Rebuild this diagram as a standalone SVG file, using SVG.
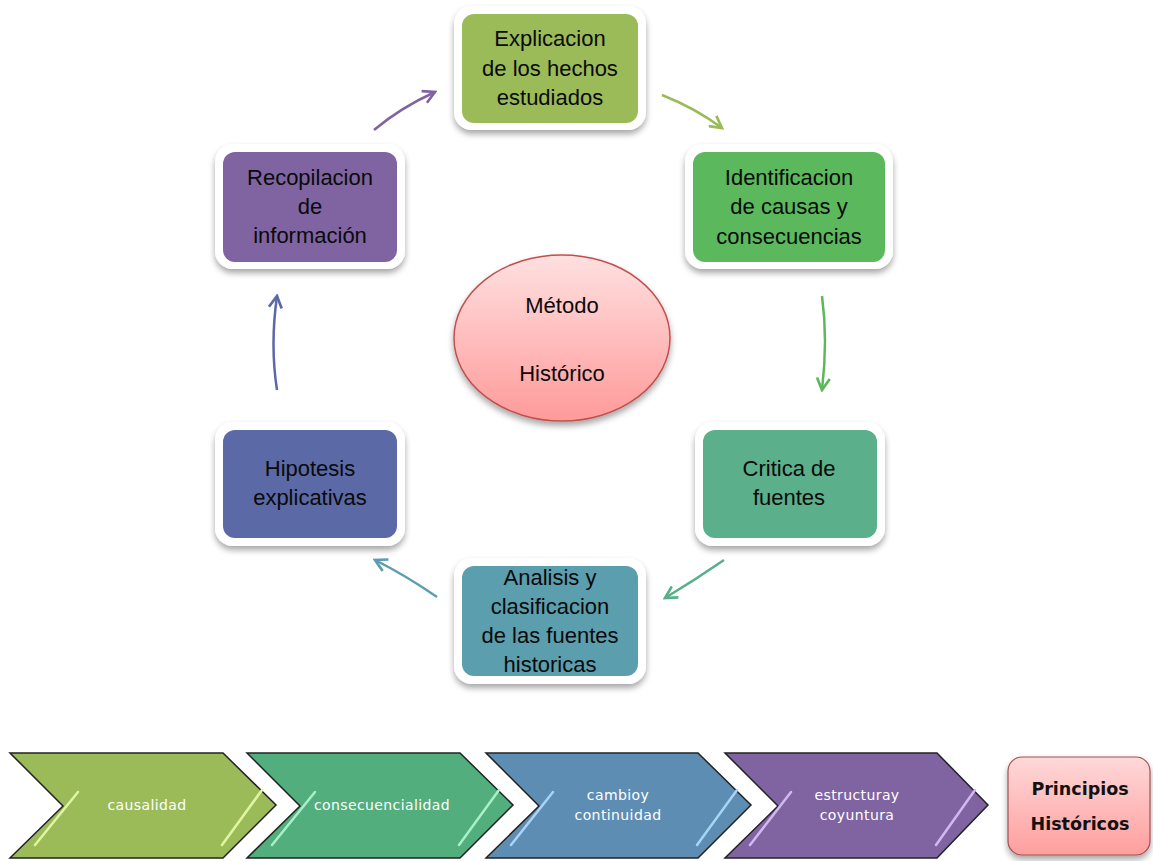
<svg xmlns="http://www.w3.org/2000/svg" width="1153" height="861" viewBox="0 0 1153 861">
<defs>
<filter id="sh" x="-20%" y="-20%" width="140%" height="150%">
<feDropShadow dx="0" dy="4" stdDeviation="3" flood-color="#000" flood-opacity="0.35"/>
</filter>
<linearGradient id="pink" x1="0" y1="0" x2="0" y2="1">
<stop offset="0" stop-color="#FFE0E0"/>
<stop offset="1" stop-color="#FF9A9A"/>
</linearGradient>
<linearGradient id="pink2" x1="0" y1="0" x2="0" y2="1">
<stop offset="0" stop-color="#FFD8D8"/>
<stop offset="1" stop-color="#FF9E9E"/>
</linearGradient>
<marker id="m1" viewBox="0 0 14 14" refX="12" refY="7" markerWidth="15" markerHeight="15" markerUnits="userSpaceOnUse" orient="auto"><path d="M1,1 L12,7 L1,13" fill="none" stroke="#8064A2" stroke-width="2.5"/></marker>
<marker id="m2" viewBox="0 0 14 14" refX="12" refY="7" markerWidth="15" markerHeight="15" markerUnits="userSpaceOnUse" orient="auto"><path d="M1,1 L12,7 L1,13" fill="none" stroke="#9BBB59" stroke-width="2.5"/></marker>
<marker id="m3" viewBox="0 0 14 14" refX="12" refY="7" markerWidth="15" markerHeight="15" markerUnits="userSpaceOnUse" orient="auto"><path d="M1,1 L12,7 L1,13" fill="none" stroke="#5CB85C" stroke-width="2.5"/></marker>
<marker id="m4" viewBox="0 0 14 14" refX="12" refY="7" markerWidth="15" markerHeight="15" markerUnits="userSpaceOnUse" orient="auto"><path d="M1,1 L12,7 L1,13" fill="none" stroke="#55B08A" stroke-width="2.5"/></marker>
<marker id="m5" viewBox="0 0 14 14" refX="12" refY="7" markerWidth="15" markerHeight="15" markerUnits="userSpaceOnUse" orient="auto"><path d="M1,1 L12,7 L1,13" fill="none" stroke="#5A9EAD" stroke-width="2.5"/></marker>
<marker id="m6" viewBox="0 0 14 14" refX="12" refY="7" markerWidth="15" markerHeight="15" markerUnits="userSpaceOnUse" orient="auto"><path d="M1,1 L12,7 L1,13" fill="none" stroke="#5B69A6" stroke-width="2.5"/></marker>
</defs>
<style>
.outer{fill:#fff;filter:url(#sh)}
.lbl{font-family:"Liberation Sans",Arial,sans-serif;font-size:22px;fill:#0a0a0a;text-anchor:middle}
.conn path{fill:none;stroke-width:2.5}
.chev{stroke:#222;stroke-width:1.5}
.hl{stroke-width:2.5;fill:none;stroke-linecap:round}
.ct{font-family:"DejaVu Sans",Verdana,sans-serif;font-size:14px;fill:#fff;text-anchor:middle;letter-spacing:0.4px}
.pt{font-family:"DejaVu Sans",Verdana,sans-serif;font-size:17.5px;font-weight:bold;fill:#111;text-anchor:middle}
</style>
<rect width="1153" height="861" fill="#fff"/>

<g id="connectors" class="conn">
<path d="M374,130 Q400,108 435,92" stroke="#8064A2" marker-end="url(#m1)"/>
<path d="M662,95 Q695,108 722,128" stroke="#9BBB59" marker-end="url(#m2)"/>
<path d="M822,296 Q828,340 822,390" stroke="#5CB85C" marker-end="url(#m3)"/>
<path d="M724,560 Q695,580 665,598" stroke="#55B08A" marker-end="url(#m4)"/>
<path d="M437,597 Q405,575 375,560" stroke="#5A9EAD" marker-end="url(#m5)"/>
<path d="M277,390 Q270,345 277,296" stroke="#5B69A6" marker-end="url(#m6)"/>
</g>

<g id="node-explicacion">
<rect class="outer" x="454" y="6" width="192" height="124" rx="18"/>
<rect x="462" y="14" width="176" height="109" rx="12" fill="#9BBB59"/>
<text class="lbl" x="550" y="46">Explicacion</text>
<text class="lbl" x="550" y="76">de los hechos</text>
<text class="lbl" x="550" y="105">estudiados</text>
</g>

<g id="node-identificacion">
<rect class="outer" x="685" y="144" width="208" height="125" rx="18"/>
<rect x="693" y="152" width="192" height="110" rx="12" fill="#5CB85C"/>
<text class="lbl" x="789" y="185">Identificacion</text>
<text class="lbl" x="789" y="214">de causas y</text>
<text class="lbl" x="789" y="244">consecuencias</text>
</g>

<g id="node-critica">
<rect class="outer" x="695" y="422" width="190" height="124" rx="18"/>
<rect x="703" y="430" width="174" height="108" rx="12" fill="#5BAF8B"/>
<text class="lbl" x="789" y="476">Critica de</text>
<text class="lbl" x="789" y="505">fuentes</text>
</g>

<g id="node-analisis">
<rect class="outer" x="454" y="558" width="192" height="126" rx="18"/>
<rect x="462" y="566" width="176" height="110" rx="12" fill="#5B9EAD"/>
<text class="lbl" x="550" y="585">Analisis y</text>
<text class="lbl" x="550" y="614">clasificacion</text>
<text class="lbl" x="550" y="643">de las fuentes</text>
<text class="lbl" x="550" y="672">historicas</text>
</g>

<g id="node-hipotesis">
<rect class="outer" x="215" y="422" width="190" height="124" rx="18"/>
<rect x="223" y="430" width="174" height="108" rx="12" fill="#5B69A6"/>
<text class="lbl" x="310" y="476">Hipotesis</text>
<text class="lbl" x="310" y="505">explicativas</text>
</g>

<g id="node-recopilacion">
<rect class="outer" x="215" y="144" width="190" height="125" rx="18"/>
<rect x="223" y="152" width="174" height="110" rx="12" fill="#8064A2"/>
<text class="lbl" x="310" y="185">Recopilacion</text>
<text class="lbl" x="310" y="214">de</text>
<text class="lbl" x="310" y="243">información</text>
</g>

<g id="node-metodo">
<ellipse cx="562" cy="338" rx="108" ry="83" fill="url(#pink)" stroke="#C0504D" stroke-width="1.5" filter="url(#sh)"/>
<text class="lbl" x="562" y="313">Método</text>
<text class="lbl" x="562" y="381">Histórico</text>
</g>

<g id="chev-causalidad">
<path class="chev" d="M10,753 L223,753 L276,805 L223,858 L10,858 L63,806 Z" fill="#9BBB59"/>
<path class="hl" d="M78,792 L35,845" stroke="#E0F5A0"/>
<path class="hl" d="M262,790 L222,845" stroke="#E0F5A0"/>
<text class="ct" x="147" y="810">causalidad</text>
</g>

<g id="chev-consecuencialidad">
<path class="chev" d="M247,753 L460,753 L513,805 L460,858 L247,858 L300,806 Z" fill="#52AE7C"/>
<path class="hl" d="M315,792 L272,845" stroke="#A8F0C8"/>
<path class="hl" d="M499,790 L459,845" stroke="#A8F0C8"/>
<text class="ct" x="382" y="810">consecuencialidad</text>
</g>

<g id="chev-cambio">
<path class="chev" d="M486,753 L698,753 L751,805 L698,858 L486,858 L539,806 Z" fill="#5E8DB4"/>
<path class="hl" d="M553,792 L511,845" stroke="#A8D4F5"/>
<path class="hl" d="M737,790 L697,845" stroke="#A8D4F5"/>
<text class="ct" x="618" y="800">cambioy</text>
<text class="ct" x="618" y="820">continuidad</text>
</g>

<g id="chev-estructura">
<path class="chev" d="M725,753 L937,753 L988,805 L937,858 L725,858 L778,806 Z" fill="#8064A2"/>
<path class="hl" d="M791,792 L750,845" stroke="#D0B8F0"/>
<path class="hl" d="M975,790 L936,845" stroke="#D0B8F0"/>
<text class="ct" x="857" y="800">estructuray</text>
<text class="ct" x="857" y="820">coyuntura</text>
</g>

<g id="node-principios">
<rect x="1008" y="757" width="142" height="98" rx="14" fill="url(#pink2)" stroke="#A05050" stroke-width="1.2" filter="url(#sh)"/>
<text class="pt" x="1080" y="795">Principios</text>
<text class="pt" x="1080" y="830">Históricos</text>
</g>
</svg>
